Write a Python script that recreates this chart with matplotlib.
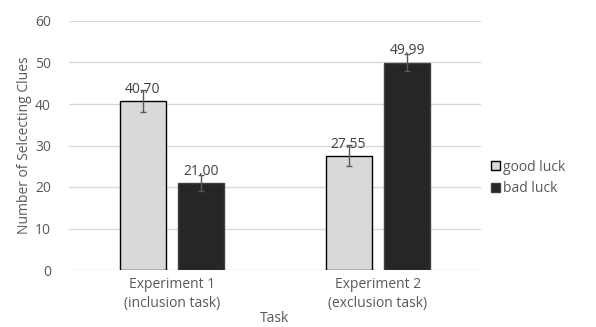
import matplotlib.pyplot as plt
import numpy as np

plt.rcParams['font.family'] = ['Open Sans', 'DejaVu Sans']

tasks = ["Experiment 1\n(inclusion task)", "Experiment 2\n(exclusion task)"]
good_luck = [40.70, 27.55]
bad_luck = [21.00, 49.99]
good_err = [2.6, 2.6]
bad_err = [2.0, 2.0]
yticks = [0, 10, 20, 30, 40, 50, 60]

fig = plt.figure(figsize=(5.96, 3.27), dpi=100)
ax = fig.add_axes([69 / 596, 1 - 270 / 327, 412 / 596, 249 / 327])

x = np.arange(len(tasks))
w = 0.223
off = 0.143
err_kw = dict(ecolor="#595959", elinewidth=1, capsize=2, capthick=1)

b1 = ax.bar(x - off, good_luck, w, yerr=good_err, color="#d9d9d9",
            edgecolor="black", linewidth=1, label="good luck", error_kw=err_kw, zorder=3)
b2 = ax.bar(x + off, bad_luck, w, yerr=bad_err, color="#262626",
            edgecolor="#404040", linewidth=1, label="bad luck", error_kw=err_kw, zorder=3)

for bars, vals in [(b1, good_luck), (b2, bad_luck)]:
    for rect, v in zip(bars, vals):
        ax.annotate(f"{v:.2f}", (rect.get_x() + rect.get_width() / 2, v),
                    xytext=(0, 3), textcoords="offset points", ha="center", va="bottom",
                    fontsize=10, color="#404040", zorder=4)

ax.set_xlim(-0.5, 1.5)
ax.set_ylim(0, 60)
ax.set_yticks(yticks)
ax.set_xticks(x)
ax.set_xticklabels(tasks, fontsize=10, color="#595959", linespacing=1.4)
ax.tick_params(axis="y", labelsize=10, labelcolor="#595959", length=0, pad=13)
ax.tick_params(axis="x", length=0, pad=5)
ax.grid(axis="y", color="#d9d9d9", linewidth=1, zorder=0)
for s in ax.spines.values():
    s.set_visible(False)

ax.set_ylabel("Number of Selcecting Clues", fontsize=10, color="#595959", labelpad=2)
fig.text(275 / 596, 1 / 327, "Task", ha="center", va="bottom", fontsize=10, color="#595959")

ax.legend(loc="center left", bbox_to_anchor=(0.995, 0.37), frameon=False, fontsize=10,
          handlelength=0.6, handleheight=0.6, handletextpad=0.25, labelspacing=0.45,
          labelcolor="#595959")

fig.savefig("out.png", dpi=100)
